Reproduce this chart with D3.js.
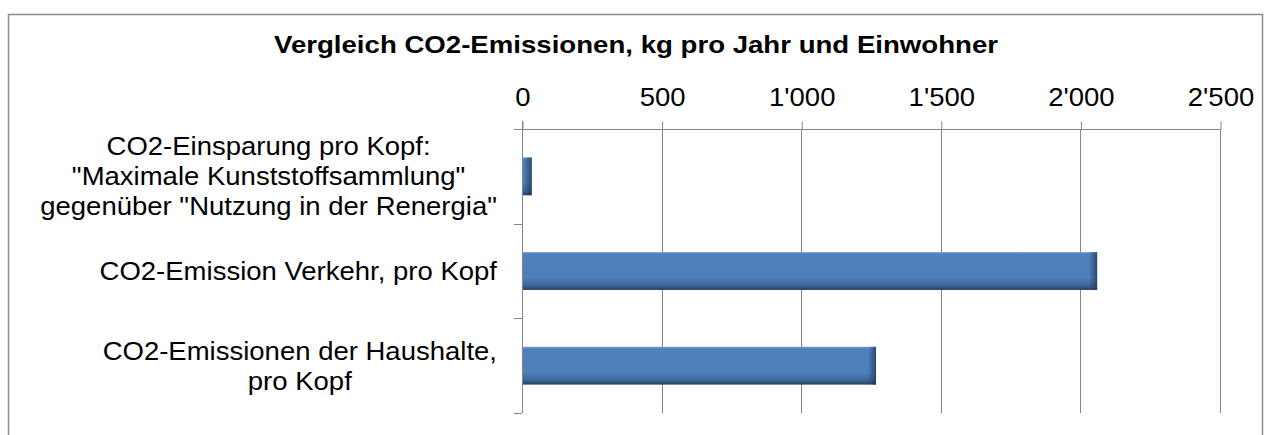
<!DOCTYPE html>
<html>
<head>
<meta charset="utf-8">
<script src="https://cdnjs.cloudflare.com/ajax/libs/d3/7.8.5/d3.min.js"></script>
<style>
  html, body { margin: 0; padding: 0; background: #fff; }
  text { font-family: Arial, "Liberation Sans", sans-serif; fill: #000; }
</style>
</head>
<body>
<div id="chart"></div>
<script>
// data
var title = "Vergleich CO2-Emissionen, kg pro Jahr und Einwohner";
var categories = ["einsparung", "verkehr", "haushalte"];
var categoryLines = [
  ["CO2-Einsparung pro Kopf:", "\"Maximale Kunststoffsammlung\"", "gegenüber \"Nutzung in der Renergia\""],
  ["CO2-Emission Verkehr, pro Kopf"],
  ["CO2-Emissionen der Haushalte,", "pro Kopf"]
];
var values = [35, 2060, 1268];
var xTicks = [0, 500, 1000, 1500, 2000, 2500];

var width = 1266;
var height = 435;

// plot area
var plotLeft = 522, plotRight = 1220, plotTop = 129, plotBottom = 413;
// text in the original is a bit wider than plain Arial
var stretch = 1.1;

var svg = d3.select("#chart")
    .append("svg")
    .attr("width", width)
    .attr("height", height);

var defs = svg.append("defs");

// excel style bar shading
var grad = defs.append("linearGradient")
    .attr("id", "barGrad")
    .attr("x1", 0).attr("y1", 0).attr("x2", 0).attr("y2", 1);
grad.append("stop").attr("offset", "0%").attr("stop-color", "#7da3d3");
grad.append("stop").attr("offset", "5%").attr("stop-color", "#4f81bd");
grad.append("stop").attr("offset", "68%").attr("stop-color", "#4d7fbb");
grad.append("stop").attr("offset", "88%").attr("stop-color", "#3c6698");
grad.append("stop").attr("offset", "100%").attr("stop-color", "#263f60");

var endGrad = defs.append("linearGradient")
    .attr("id", "endGrad")
    .attr("x1", 0).attr("y1", 0).attr("x2", 1).attr("y2", 0);
endGrad.append("stop").attr("offset", "0%").attr("stop-color", "#1f3656").attr("stop-opacity", 0);
endGrad.append("stop").attr("offset", "100%").attr("stop-color", "#1f3656").attr("stop-opacity", 0.75);

function widen(sel, factor) {
    sel.each(function() {
        var w = this.getComputedTextLength();
        d3.select(this)
            .attr("textLength", w * factor)
            .attr("lengthAdjust", "spacingAndGlyphs");
    });
}

// outer frame
svg.append("rect")
    .attr("x", 8.5)
    .attr("y", 14.5)
    .attr("width", 1254)
    .attr("height", 460)
    .attr("fill", "none")
    .attr("stroke", "#8c8c8c")
    .attr("stroke-width", 1.5);

// title
var titleText = svg.append("text")
    .attr("y", 53)
    .attr("font-size", 24)
    .attr("font-weight", "bold")
    .text(title);
var titleW = 724;
titleText
    .attr("x", 636 - titleW / 2)
    .attr("textLength", titleW)
    .attr("lengthAdjust", "spacingAndGlyphs");

var xScale = d3.scaleLinear()
    .domain([0, 2500])
    .range([plotLeft, plotRight]);

var yScale = d3.scaleBand()
    .domain(categories)
    .range([plotTop, plotBottom])
    .paddingInner(0.6)
    .paddingOuter(0.3);

var fmt = d3.formatLocale({ decimal: ".", thousands: "'", grouping: [3], currency: ["", ""] }).format(",d");

// x axis on top
var xAxis = d3.axisTop(xScale)
    .tickValues(xTicks)
    .tickFormat(fmt)
    .tickSize(8)
    .tickPadding(16);

var gx = svg.append("g")
    .attr("class", "xAxis")
    .attr("transform", "translate(0.5," + (plotTop + 0.5) + ")")
    .call(xAxis);
gx.select(".domain").remove();
gx.selectAll(".tick line").attr("stroke", "#868686");
gx.selectAll(".tick text")
    .attr("font-size", 25)
    .attr("font-family", "Arial, 'Liberation Sans', sans-serif")
    .attr("fill", "#000")
    .call(widen, stretch);

// gridlines
svg.append("g")
    .selectAll("line")
    .data(xTicks.slice(1))
    .enter()
    .append("line")
    .attr("x1", function(d) { return Math.round(xScale(d)) + 0.5; })
    .attr("x2", function(d) { return Math.round(xScale(d)) + 0.5; })
    .attr("y1", plotTop)
    .attr("y2", plotBottom)
    .attr("stroke", "#868686")
    .attr("stroke-width", 1);

// top axis line
svg.append("line")
    .attr("x1", plotLeft - 8)
    .attr("x2", plotRight + 1)
    .attr("y1", plotTop + 0.5)
    .attr("y2", plotTop + 0.5)
    .attr("stroke", "#868686");

// category axis with ticks between bands
var step = yScale.step();
var boundaries = d3.range(categories.length + 1).map(function(i) { return plotTop + i * step; });
svg.append("line")
    .attr("x1", plotLeft + 0.5)
    .attr("x2", plotLeft + 0.5)
    .attr("y1", plotTop - 8)
    .attr("y2", plotBottom)
    .attr("stroke", "#868686");
svg.append("g")
    .selectAll("line")
    .data(boundaries)
    .enter()
    .append("line")
    .attr("x1", plotLeft - 8)
    .attr("x2", plotLeft)
    .attr("y1", function(d) { return Math.round(d) + 0.5; })
    .attr("y2", function(d) { return Math.round(d) + 0.5; })
    .attr("stroke", "#868686");

// bars
var bars = svg.append("g").selectAll("g").data(values).enter().append("g");
bars.append("rect")
    .attr("x", plotLeft + 1)
    .attr("y", function(d, i) { return yScale(categories[i]); })
    .attr("width", function(d) { return xScale(d) - plotLeft - 1; })
    .attr("height", yScale.bandwidth())
    .attr("fill", "url(#barGrad)");
bars.append("rect")
    .attr("x", function(d) { return xScale(d) - Math.min(8, xScale(d) - plotLeft - 1); })
    .attr("y", function(d, i) { return yScale(categories[i]); })
    .attr("width", function(d) { return Math.min(8, xScale(d) - plotLeft - 1); })
    .attr("height", yScale.bandwidth())
    .attr("fill", "url(#endGrad)");

// category labels, each block right aligned and lines centred
var lineHeight = 30;
var labelRight = plotLeft - 25;
var labels = svg.append("g").selectAll("text")
    .data(categoryLines)
    .enter()
    .append("text")
    .attr("font-size", 25)
    .attr("text-anchor", "middle");

labels.each(function(lines, i) {
    var t = d3.select(this);
    var cy = yScale(categories[i]) + yScale.bandwidth() / 2;
    var y0 = cy - (lines.length - 1) * lineHeight / 2 + 9;
    lines.forEach(function(line, j) {
        t.append("tspan").attr("y", y0 + j * lineHeight).text(line);
    });
    var spans = t.selectAll("tspan");
    spans.call(widen, stretch);
    var maxW = 0;
    spans.each(function() {
        maxW = Math.max(maxW, +d3.select(this).attr("textLength"));
    });
    spans.attr("x", labelRight - maxW / 2);
});
</script>
</body>
</html>
